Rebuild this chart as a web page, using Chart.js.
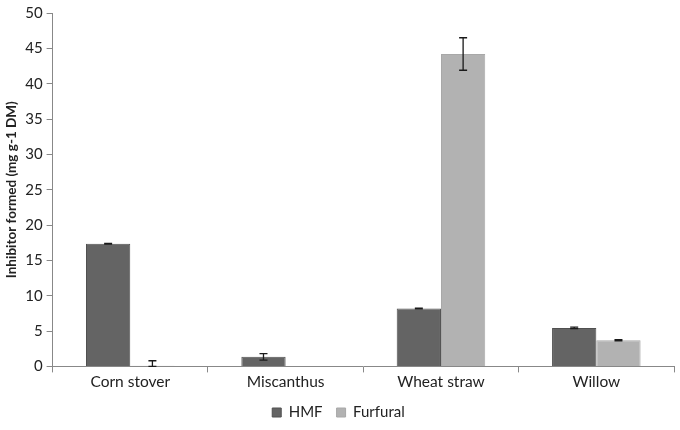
<!DOCTYPE html>
<html>
<head>
<meta charset="utf-8">
<style>
  html, body { margin: 0; padding: 0; background: #fff; }
  #wrap { width: 680px; height: 430px; }
</style>
</head>
<body>
<div id="wrap"><canvas id="chart"></canvas></div>

<script src="https://cdn.jsdelivr.net/npm/chart.js"></script>

<script>
  const categories = ['Corn stover', 'Miscanthus', 'Wheat straw', 'Willow']
  const hmf = [17.35, 1.35, 8.2, 5.45]
  const hmfErr = [0.05, 0.45, 0.05, 0.1]
  const furfural = [0.1, 0, 44.2, 3.7]
  const furfuralErr = [0.7, 0, 2.3, 0.1]

  const errors = [hmfErr, furfuralErr]

  // whiskers drawn through the y scale
  const errorBars = {
    id: 'errorBars',
    afterDatasetsDraw(chart) {
      const ctx = chart.ctx
      const y = chart.scales.y
      ctx.save()
      ctx.strokeStyle = '#1a1a1a'
      ctx.lineWidth = 1.3
      chart.data.datasets.forEach((ds, i) => {
        const meta = chart.getDatasetMeta(i)
        meta.data.forEach((bar, j) => {
          const e = errors[i][j]
          if (!e) return
          const v = ds.data[j]
          const top = y.getPixelForValue(v + e)
          const bot = y.getPixelForValue(Math.max(0, v - e))
          const cap = 4
          ctx.beginPath()
          ctx.moveTo(bar.x, top); ctx.lineTo(bar.x, bot)
          ctx.moveTo(bar.x - cap, top); ctx.lineTo(bar.x + cap, top)
          ctx.moveTo(bar.x - cap, bot); ctx.lineTo(bar.x + cap, bot)
          ctx.stroke()
        })
      })
      ctx.restore()
    }
  }

  Chart.defaults.font.family = 'Lato, "Open Sans", sans-serif'
  Chart.defaults.color = '#222'

  new Chart(document.getElementById('chart'), {
    type: 'bar',
    data: {
      labels: categories,
      datasets: [
        {
          label: 'HMF',
          data: hmf,
          backgroundColor: '#646464',
          borderColor: '#505050',
          borderWidth: 1,
          categoryPercentage: 0.57,
          barPercentage: 1
        },
        {
          label: 'Furfural',
          data: furfural,
          backgroundColor: '#b2b2b2',
          borderColor: '#a8a8a8',
          borderWidth: 1,
          categoryPercentage: 0.57,
          barPercentage: 1
        }
      ]
    },
    options: {
      responsive: true,
      maintainAspectRatio: false,
      animation: false,
      layout: { padding: { top: 4, right: 6, left: 3, bottom: 0 } },
      plugins: {
        tooltip: { enabled: false },
        legend: {
          position: 'bottom',
          labels: {
            boxWidth: 9,
            boxHeight: 9,
            padding: 14,
            font: { size: 15 }
          }
        }
      },
      scales: {
        x: {
          grid: { offset: true, drawOnChartArea: false, tickLength: 6, color: '#888' },
          border: { color: '#888' },
          ticks: { font: { size: 15.5 }, padding: 0 }
        },
        y: {
          min: 0,
          max: 50,
          ticks: { stepSize: 5, font: { size: 15 }, padding: 4 },
          grid: { drawOnChartArea: false, tickLength: 6, color: '#888' },
          border: { color: '#888' },
          title: {
            display: true,
            text: 'Inhibitor formed (mg g-1 DM)',
            font: { size: 13.5, weight: 'bold' },
            padding: 1
          }
        }
      }
    },
    plugins: [errorBars]
  })
</script>
</body>
</html>
